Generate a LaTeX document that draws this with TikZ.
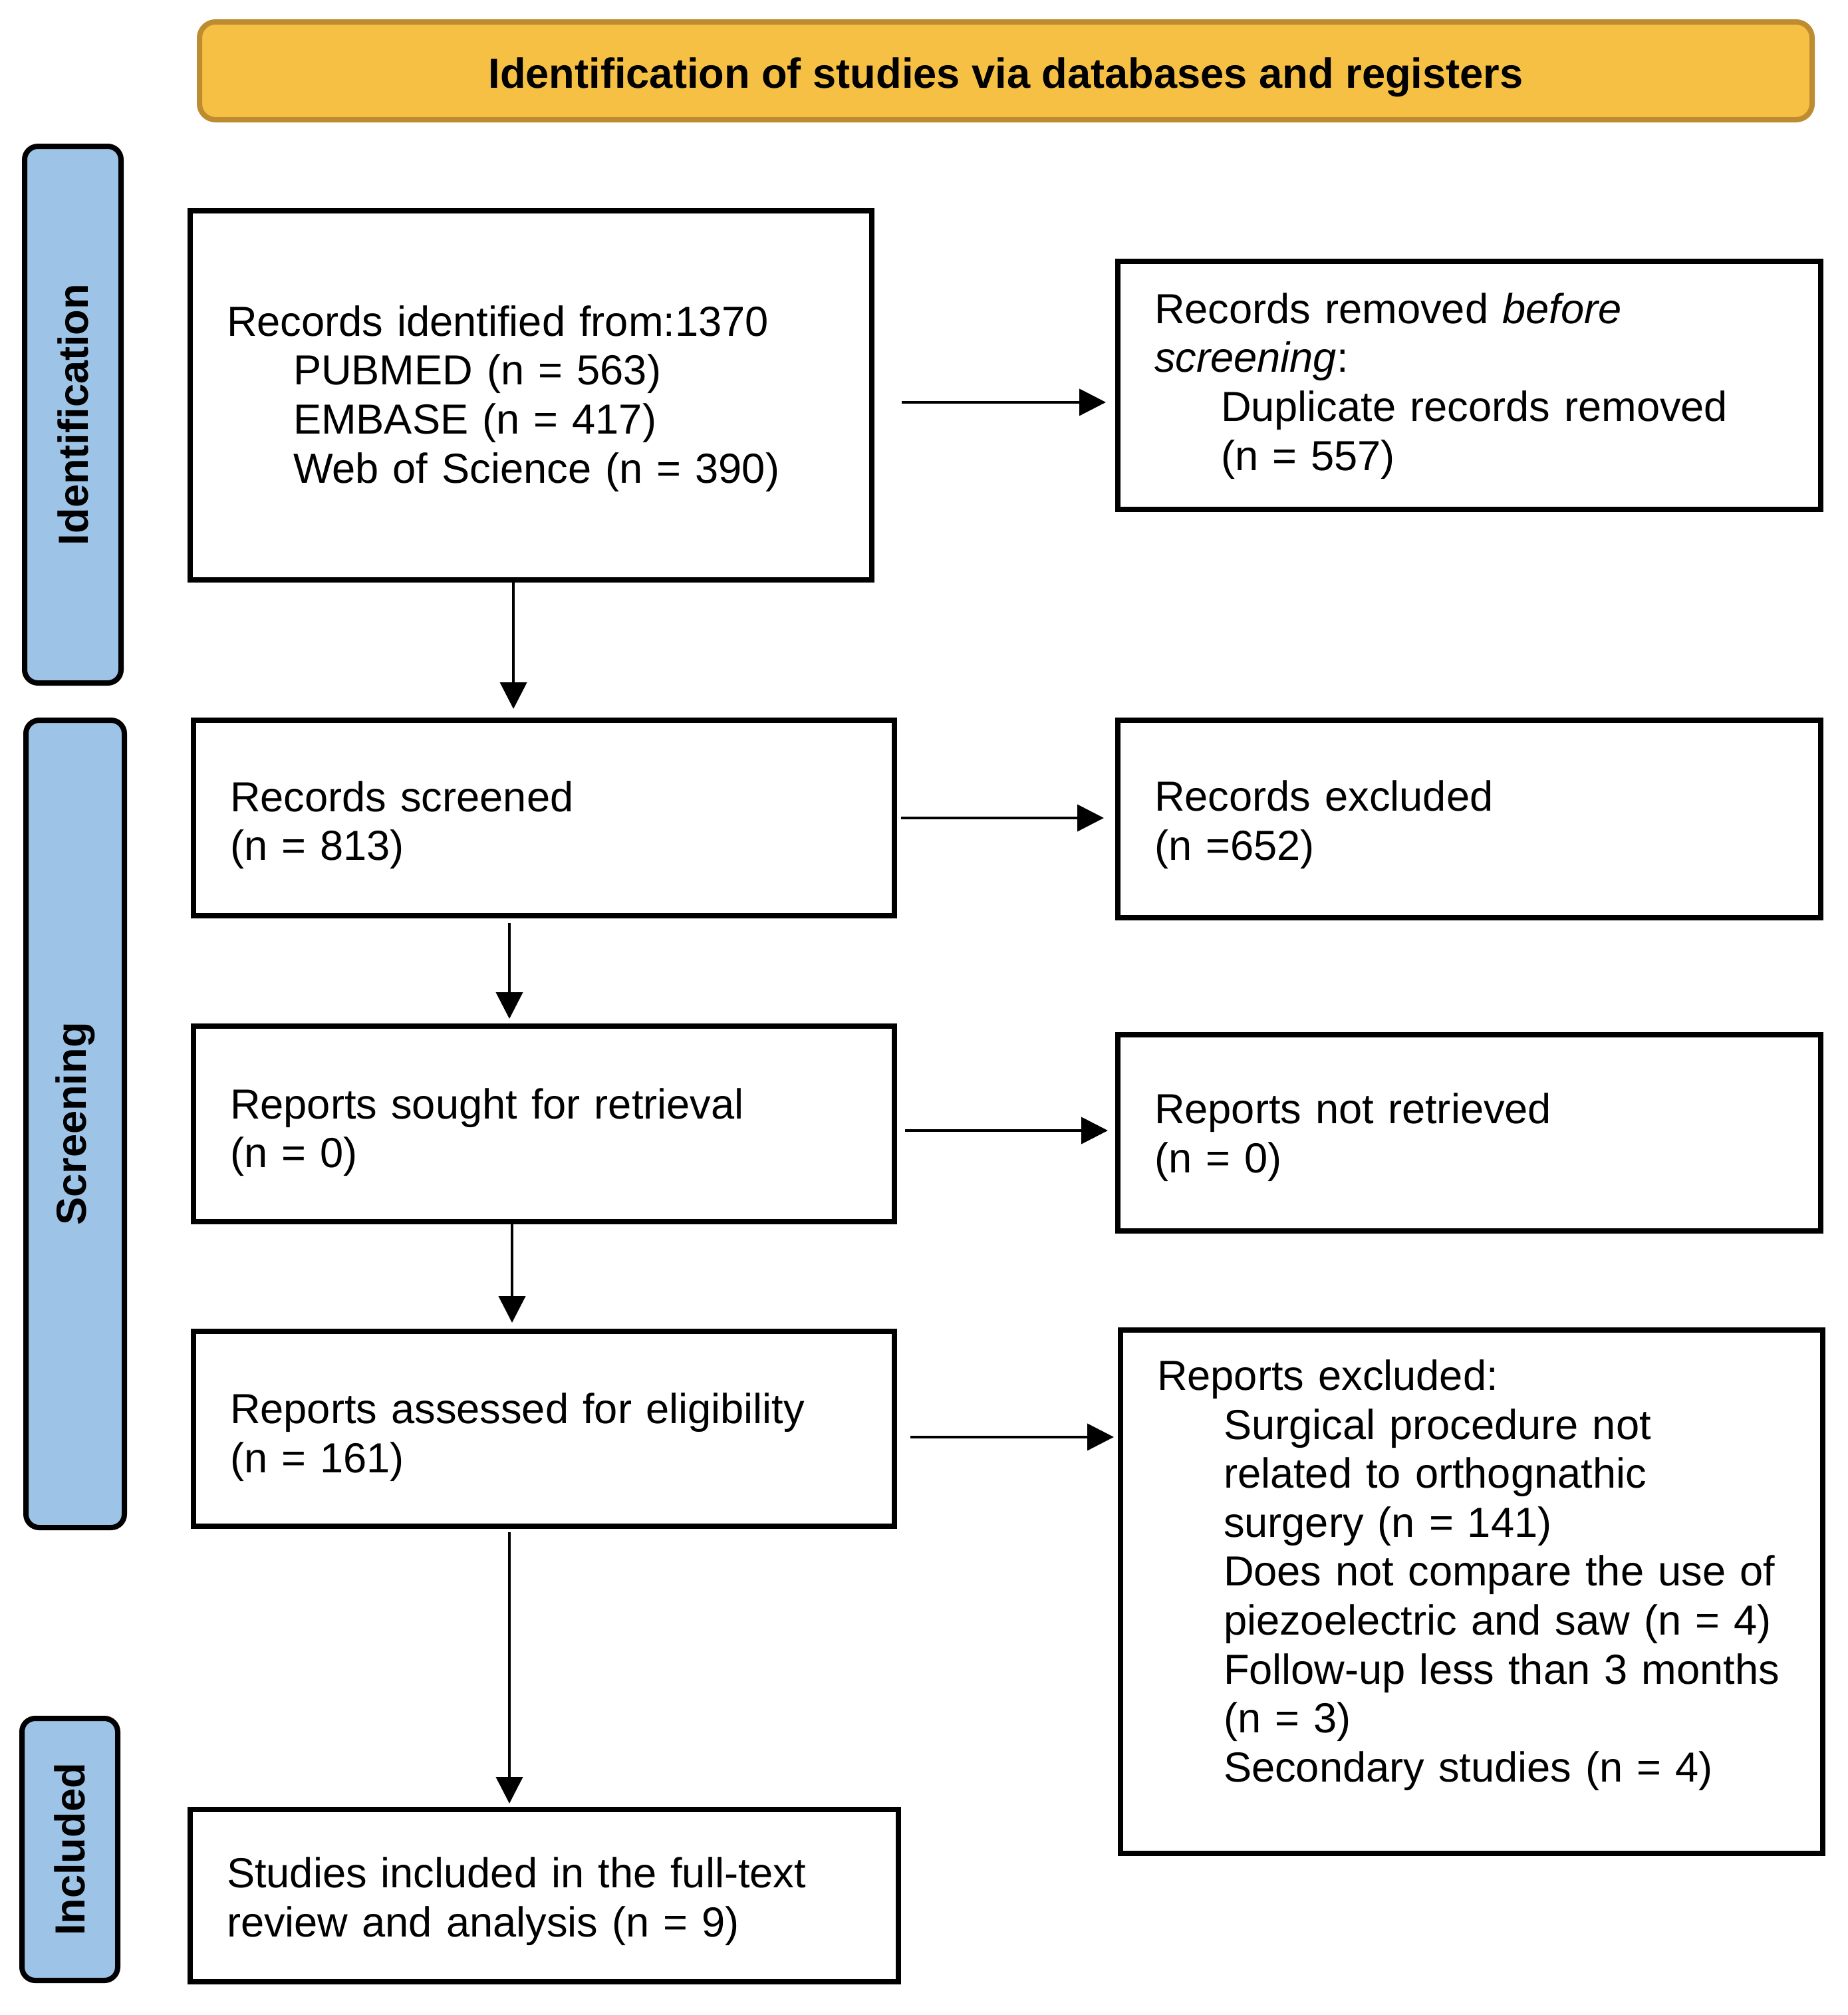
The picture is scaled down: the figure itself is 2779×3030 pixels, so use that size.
\documentclass[tikz,border=0pt]{standalone}
\usepackage{fontspec}
\setmainfont{Liberation Sans}
\usetikzlibrary{arrows.meta}
\definecolor{banfill}{HTML}{F6C045}
\definecolor{banline}{HTML}{BE8C30}
\definecolor{sidefill}{HTML}{9DC3E6}
\tikzset{
  box/.style={draw=black, line width=2pt, rectangle, inner xsep=13.75pt, inner ysep=0pt, align=left,
    font=\fontsize{15.8pt}{18.4pt}\selectfont},
  banner/.style={draw=banline, fill=banfill, line width=2pt, rounded corners=6pt,
    font=\fontsize{15.8pt}{18.4pt}\selectfont\bfseries},
  side/.style={draw=black, fill=sidefill, line width=2pt, rounded corners=5pt, rotate=90,
    inner sep=0pt, font=\fontsize{15.8pt}{18.4pt}\selectfont\bfseries},
  arr/.style={line width=1pt, -{Triangle[length=10pt,width=10pt]}},
}
\newcommand{\ind}{\hspace*{25pt}}
\newcommand{\dn}[1]{\rule{0pt}{\dimexpr\fontcharht\font`d+#1\relax}}
\begin{document}
\begin{tikzpicture}[x=0.25pt,y=-0.25pt]
\useasboundingbox (0,0) rectangle (2779,3030);

\node[banner, minimum width=606.25pt, minimum height=36.75pt] (ban) at (1512.5,106.5)
  {\raisebox{-2.4pt}[\height][\depth]{Identification of studies via databases and registers}};

\node[side, minimum width=201.75pt, minimum height=36.25pt] (sid) at (109.5,623.5) {Identification};
\node[side, minimum width=303.5pt, minimum height=37pt] (sscr) at (113,1690) {Screening};
\node[side, minimum width=98.5pt, minimum height=36pt] (sinc) at (105,2781) {Included};

\node[box, minimum width=256.25pt, minimum height=138.75pt, text width=228.75pt] (ident) at (798.5,594.5)
  {\dn{3pt}Records identified from:1370\\
   \ind PUBMED (n = 563)\\
   \ind EMBASE (n = 417)\\
   \ind Web of Science (n = 390)};

\node[box, minimum width=264.25pt, minimum height=93.25pt, text width=236.75pt] (removed) at (2209.5,579.5)
  {\dn{1pt}Records removed \textit{before}\\
   \textit{screening}:\\
   \ind Duplicate records removed\\
   \ind (n = 557)};

\node[box, minimum width=263.5pt, minimum height=73.5pt, text width=236pt] (screened) at (818,1230)
  {\dn{5.8pt}Records screened\\(n = 813)};

\node[box, minimum width=264.25pt, minimum height=74.25pt, text width=236.75pt] (excl) at (2209.5,1231.5)
  {\dn{4.8pt}Records excluded\\(n =652)};

\node[box, minimum width=263.5pt, minimum height=73.5pt, text width=236pt] (sought) at (818,1690)
  {\dn{6.8pt}Reports sought for retrieval\\(n = 0)};

\node[box, minimum width=264.25pt, minimum height=73.75pt, text width=236.75pt] (notret) at (2209.5,1703.5)
  {\dn{3.9pt}Reports not retrieved\\(n = 0)};

\node[box, minimum width=263.5pt, minimum height=73.25pt, text width=236pt] (assessed) at (818,2148.5)
  {\dn{6.8pt}Reports assessed for eligibility\\(n = 161)};

\node[box, minimum width=264pt, minimum height=196.75pt, text width=236.5pt] (repexcl) at (2213,2393.5)
  {\dn{8.7pt}Reports excluded:\\
   \ind Surgical procedure not\\
   \ind related to orthognathic\\
   \ind surgery (n = 141)\\
   \ind Does not compare the use of\\
   \ind piezoelectric and saw (n = 4)\\
   \ind Follow-up less than 3 months\\
   \ind (n = 3)\\
   \ind Secondary studies (n = 4)\\
   \strut};

\node[box, minimum width=266.25pt, minimum height=64.75pt, text width=238.75pt] (included) at (818.5,2850.5)
  {\dn{4.8pt}Studies included in the full-text\\review and analysis (n = 9)};

% horizontal arrows
\draw[arr, shorten <=10.25pt, shorten >=3.5pt] ([yshift=-2.6pt]ident.east) -- ([yshift=-2.6pt]ident.east -| removed.west);
\draw[arr, shorten <=1.5pt, shorten >=4.25pt] (screened.east) -- (screened.east -| excl.west);
\draw[arr, shorten <=3pt, shorten >=2.75pt] ([yshift=-2.5pt]sought.east) -- ([yshift=-2.5pt]sought.east -| notret.west);
\draw[arr, shorten <=5pt, shorten >=1.5pt] ([yshift=-3.1pt]assessed.east) -- ([yshift=-3.1pt]assessed.east -| repexcl.west);

% vertical arrows
\draw[arr, shorten >=3.25pt] ([xshift=-6.6pt]ident.south) -- ([xshift=-6.6pt]ident.south |- screened.north);
\draw[arr, shorten <=1.75pt, shorten >=1.75pt] ([xshift=-13pt]screened.south) -- ([xshift=-13pt]screened.south |- sought.north);
\draw[arr, shorten >=2.25pt] ([xshift=-12pt]sought.south) -- ([xshift=-12pt]sought.south |- assessed.north);
\draw[arr, shorten <=1.25pt, shorten >=1.25pt] ([xshift=-13pt]assessed.south) -- ([xshift=-13pt]assessed.south |- included.north);
\end{tikzpicture}
\end{document}
